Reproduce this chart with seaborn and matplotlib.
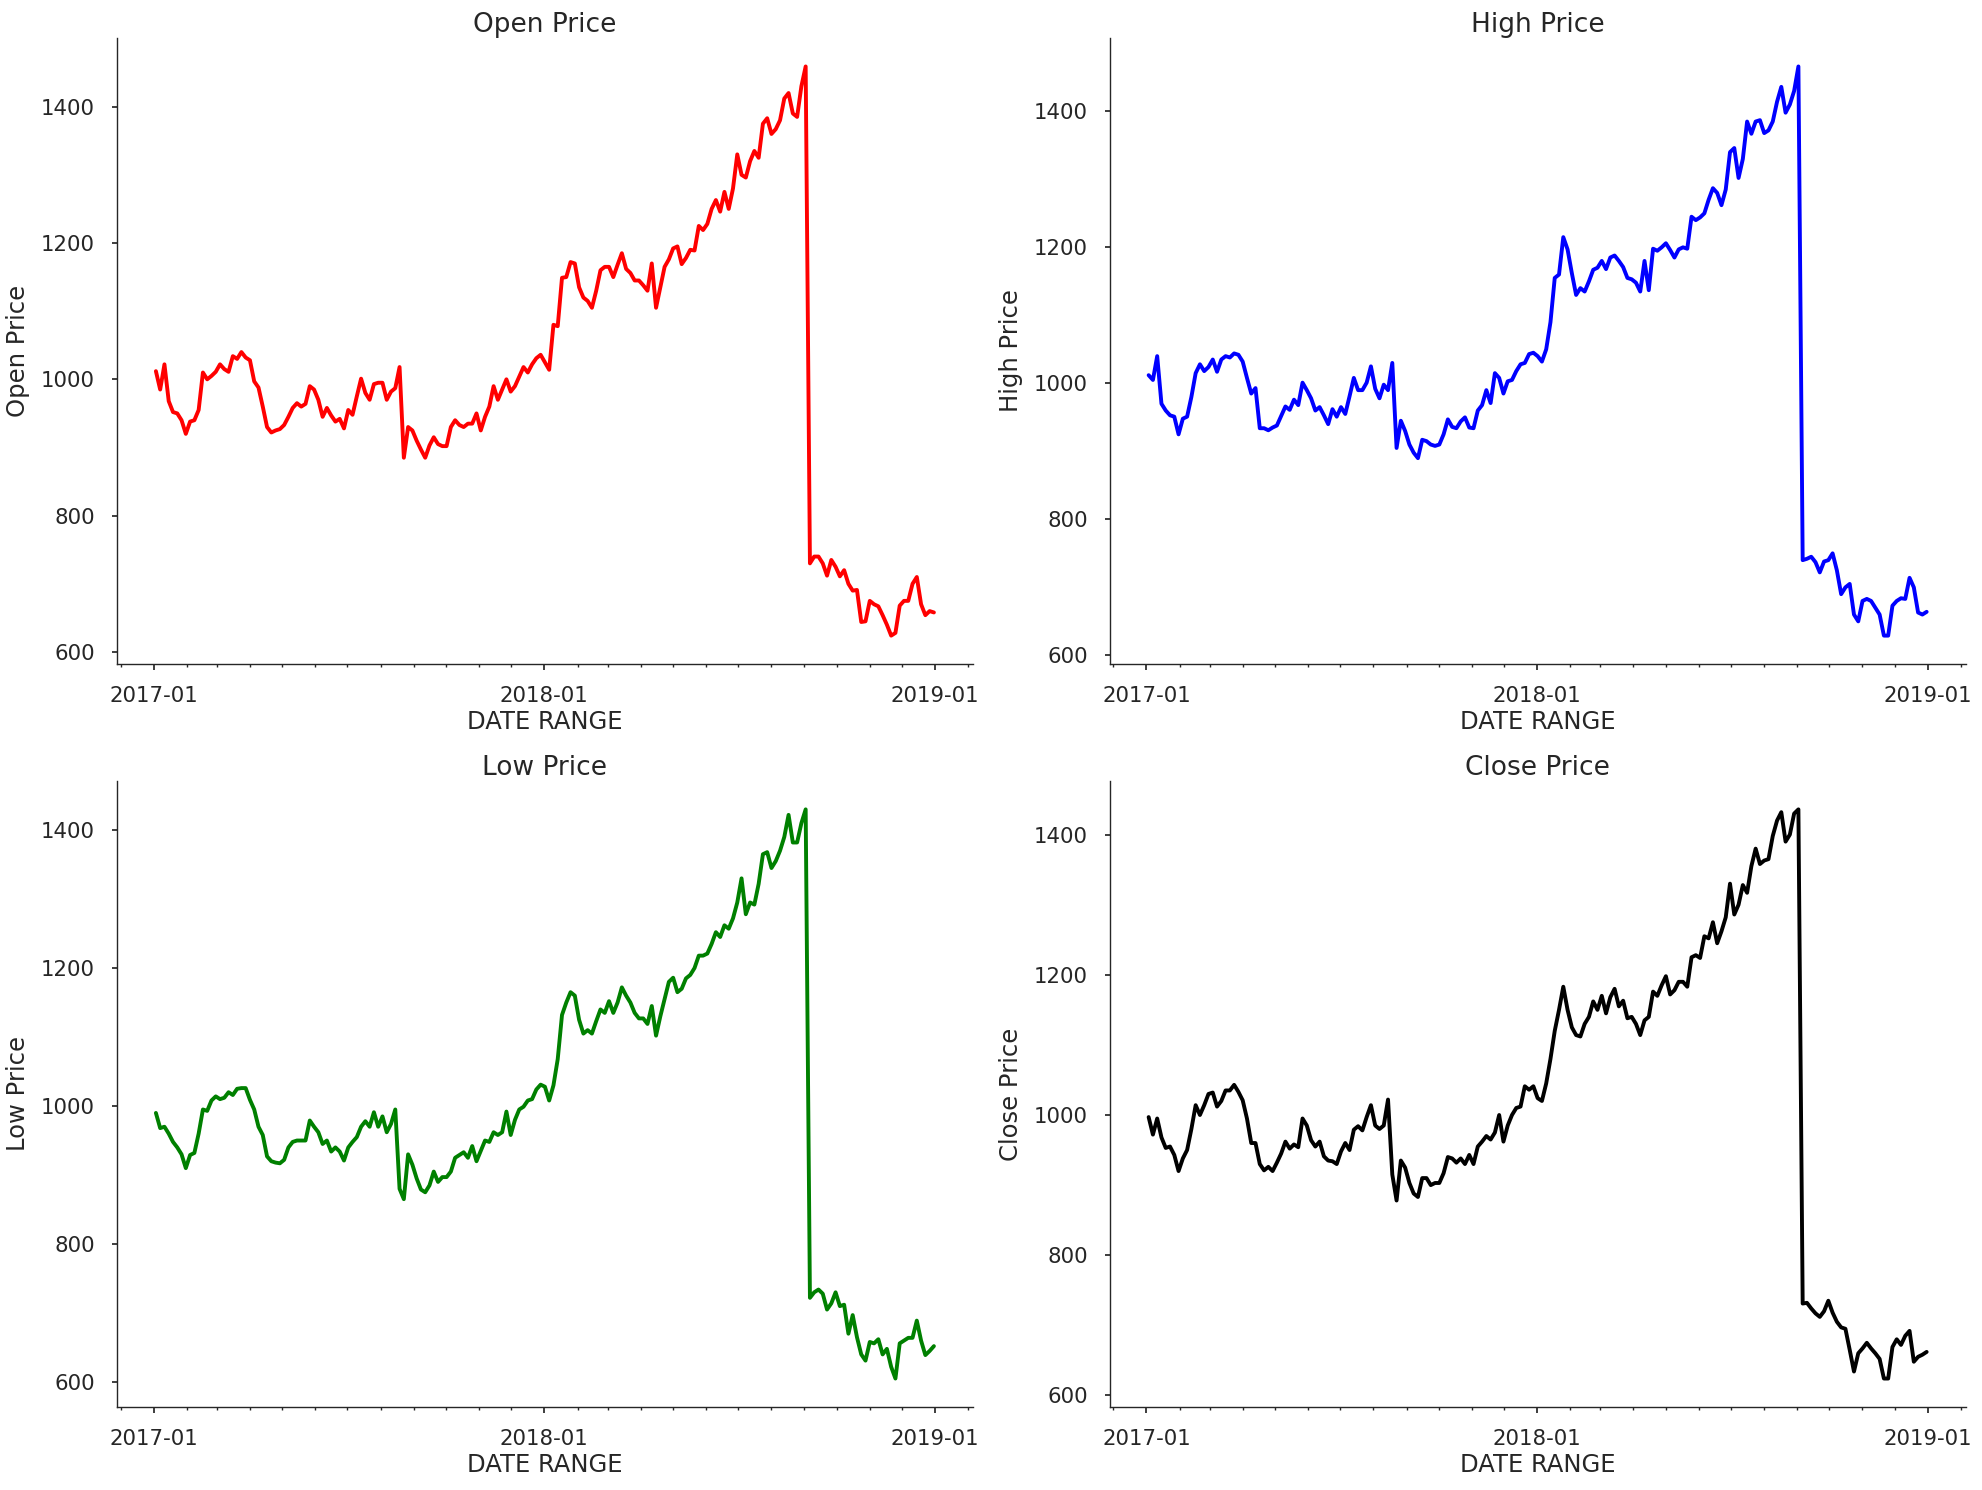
import pandas as pd
import seaborn as sns
import matplotlib
matplotlib.use("Agg")
import matplotlib.pyplot as plt
import matplotlib.dates as mdates
from matplotlib.ticker import MultipleLocator

# sampled roughly every 4 days over the two years
dates = pd.date_range("2017-01-03", "2018-12-31", periods=183)

open_price = [
    1012, 985, 1022, 968, 952, 950, 940, 920, 938, 940,
    955, 1010, 1000, 1005, 1011, 1022, 1015, 1011, 1034, 1030,
    1040, 1032, 1028, 997, 988, 960, 930, 922, 925, 927,
    933, 945, 958, 965, 960, 964, 990, 985, 970, 945,
    958, 947, 938, 942, 928, 955, 948, 975, 1001, 980,
    970, 993, 995, 995, 970, 982, 987, 1018, 885, 930,
    925, 910, 897, 885, 903, 915, 905, 902, 902, 930,
    940, 933, 930, 935, 935, 950, 925, 945, 960, 990,
    970, 985, 1000, 982, 990, 1004, 1018, 1010, 1022, 1031,
    1036, 1025, 1014, 1080, 1078, 1149, 1150, 1172, 1170, 1135,
    1120, 1115, 1105, 1130, 1160, 1165, 1165, 1150, 1168, 1185,
    1162, 1156, 1145, 1145, 1138, 1130, 1170, 1105, 1135, 1165,
    1176, 1192, 1195, 1169, 1178, 1190, 1189, 1225, 1219, 1228,
    1250, 1263, 1246, 1275, 1250, 1280, 1330, 1300, 1296, 1320,
    1335, 1325, 1375, 1383, 1360, 1367, 1380, 1412, 1420, 1390,
    1385, 1430, 1459, 730, 740, 740, 730, 712, 735, 725,
    711, 720, 700, 690, 691, 644, 645, 675, 670, 667,
    654, 640, 624, 628, 668, 675, 675, 700, 710, 670,
    654, 660, 658,
]

high_price = [
    1012, 1005, 1040, 970, 960, 953, 951, 925, 948, 951,
    980, 1015, 1028, 1018, 1024, 1035, 1017, 1035, 1040, 1038,
    1044, 1042, 1032, 1008, 985, 993, 934, 934, 931, 935,
    938, 952, 966, 961, 976, 968, 1001, 990, 978, 960,
    965, 953, 940, 962, 951, 965, 955, 981, 1008, 990,
    990, 1001, 1025, 992, 978, 998, 990, 1030, 905, 945,
    930, 910, 898, 890, 917, 915, 910, 908, 910, 925,
    947, 936, 934, 944, 950, 935, 934, 960, 968, 990,
    971, 1015, 1008, 985, 1003, 1005, 1018, 1028, 1030, 1043,
    1045, 1040, 1032, 1050, 1090, 1155, 1160, 1215, 1197, 1162,
    1130, 1140, 1135, 1150, 1167, 1170, 1180, 1168, 1185, 1188,
    1180, 1171, 1155, 1153, 1148, 1135, 1180, 1137, 1198, 1195,
    1200, 1206, 1196, 1185, 1197, 1200, 1198, 1245, 1240, 1244,
    1250, 1270, 1287, 1280, 1262, 1285, 1340, 1346, 1302, 1330,
    1385, 1367, 1385, 1387, 1368, 1372, 1385, 1414, 1436, 1398,
    1410, 1430, 1466, 740, 742, 745, 737, 722, 738, 740,
    750, 725, 690, 700, 705, 660, 650, 680, 683, 680,
    670, 660, 629, 629, 673, 680, 684, 683, 714, 700,
    663, 660, 664,
]

low_price = [
    990, 968, 970, 960, 948, 940, 930, 910, 929, 932,
    960, 995, 993, 1008, 1014, 1010, 1012, 1020, 1016, 1025,
    1026, 1026, 1009, 995, 970, 958, 927, 920, 918, 917,
    922, 940, 948, 950, 950, 950, 979, 970, 962, 945,
    950, 934, 940, 934, 921, 940, 948, 955, 970, 978,
    970, 991, 970, 985, 962, 974, 995, 880, 865, 930,
    915, 895, 879, 875, 885, 905, 890, 897, 897, 905,
    925, 929, 933, 925, 942, 920, 935, 950, 948, 962,
    958, 962, 992, 958, 980, 995, 999, 1008, 1010, 1024,
    1031, 1028, 1008, 1030, 1068, 1132, 1150, 1165, 1160, 1125,
    1105, 1110, 1105, 1123, 1140, 1135, 1152, 1135, 1150, 1172,
    1160, 1150, 1135, 1127, 1127, 1119, 1145, 1102, 1130, 1155,
    1180, 1186, 1165, 1170, 1185, 1190, 1200, 1218, 1218, 1221,
    1235, 1252, 1245, 1262, 1257, 1272, 1295, 1330, 1278, 1295,
    1292, 1322, 1365, 1368, 1345, 1355, 1370, 1390, 1422, 1382,
    1382, 1410, 1430, 722, 730, 734, 728, 705, 714, 730,
    710, 712, 670, 697, 665, 640, 631, 658, 656, 662,
    640, 648, 622, 605, 656, 660, 664, 664, 689, 660,
    639, 645, 652,
]

close_price = [
    997, 972, 995, 968, 953, 955, 943, 920, 938, 950,
    980, 1014, 1000, 1014, 1030, 1032, 1012, 1020, 1035, 1035,
    1043, 1033, 1021, 995, 960, 960, 930, 921, 926, 920,
    932, 945, 962, 952, 958, 954, 995, 985, 964, 955,
    962, 941, 935, 934, 930, 948, 960, 950, 979, 984,
    978, 997, 1014, 985, 980, 985, 1022, 915, 878, 935,
    925, 903, 888, 883, 910, 910, 900, 903, 903, 917,
    940, 938, 932, 938, 930, 943, 930, 955, 962, 970,
    965, 975, 1000, 962, 985, 1000, 1010, 1012, 1041, 1036,
    1041, 1024, 1020, 1045, 1080, 1120, 1150, 1183, 1150, 1125,
    1114, 1112, 1130, 1140, 1162, 1150, 1170, 1145, 1168, 1180,
    1155, 1163, 1138, 1140, 1130, 1114, 1135, 1140, 1176, 1170,
    1185, 1198, 1172, 1178, 1190, 1190, 1183, 1225, 1228, 1224,
    1255, 1252, 1275, 1245, 1262, 1282, 1330, 1286, 1300, 1328,
    1317, 1355, 1380, 1358, 1363, 1365, 1398, 1420, 1432, 1390,
    1400, 1430, 1436, 731, 732, 724, 717, 712, 720, 735,
    718, 705, 697, 695, 665, 634, 660, 667, 675, 667,
    660, 652, 624, 624, 669, 680, 672, 685, 692, 648,
    655, 658, 662,
]

panels = [
    ("Open Price", open_price, "red"),
    ("High Price", high_price, "blue"),
    ("Low Price", low_price, "green"),
    ("Close Price", close_price, "black"),
]

sns.set_theme(style="ticks")
plt.rcParams["font.family"] = ["DejaVu Sans"]
plt.rcParams["xtick.major.size"] = 4.0
plt.rcParams["ytick.major.size"] = 3.4
plt.rcParams["xtick.minor.size"] = 2.4
plt.rcParams["xtick.major.pad"] = 11.5
plt.rcParams["ytick.major.pad"] = 12.5
plt.rcParams["axes.linewidth"] = 1.0

fig, axes = plt.subplots(2, 2, figsize=(19.83, 14.90), dpi=100)
fig.subplots_adjust(left=0.059, right=0.9912, top=0.9745, bottom=0.0557,
                    wspace=0.160, hspace=0.1866)

for ax, (name, vals, col) in zip(axes.flat, panels):
    df = pd.DataFrame({"date": dates, "price": vals})
    sns.lineplot(data=df, x="date", y="price", ax=ax, color=col, linewidth=2.8)
    ax.set_title(name, fontsize=19, pad=1.5)
    ax.set_xlabel("DATE RANGE", fontsize=17.5, labelpad=3)
    ax.set_ylabel(name, fontsize=17.5, labelpad=8)
    ax.xaxis.set_major_locator(mdates.YearLocator())
    ax.xaxis.set_major_formatter(mdates.DateFormatter("%Y-%m"))
    ax.xaxis.set_minor_locator(mdates.MonthLocator())
    ax.yaxis.set_major_locator(MultipleLocator(200))
    ax.tick_params(axis="both", which="major", labelsize=15.3)
    sns.despine(ax=ax)

fig.savefig("out.png", dpi=100)
